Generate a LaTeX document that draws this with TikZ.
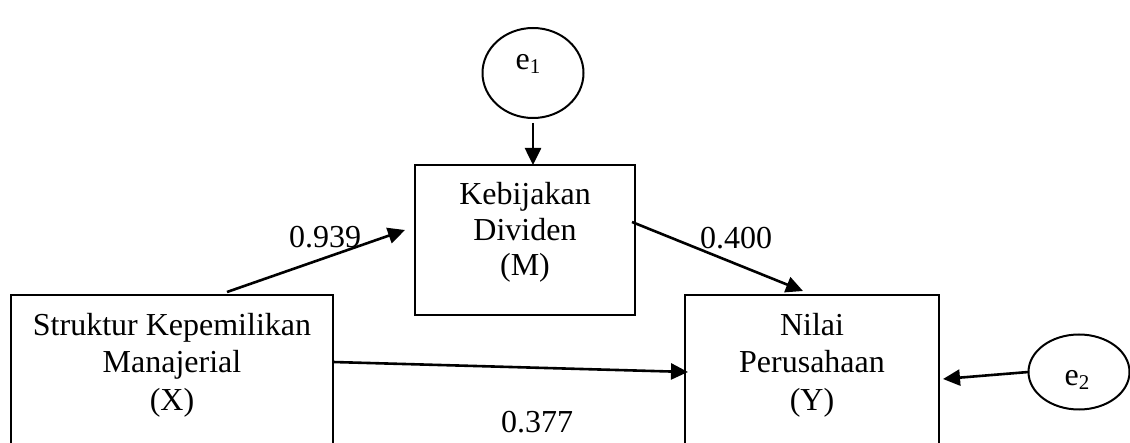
\documentclass[tikz,border=0pt]{standalone}
\usepackage{fontspec}
\setmainfont{Liberation Serif}
\usetikzlibrary{arrows.meta,calc,shapes.geometric}
\begin{document}
\begin{tikzpicture}[x=1pt,y=-1pt,
  box/.style={draw,line width=2pt,rectangle,outer sep=0pt,inner sep=0pt},
  err/.style={draw,line width=2pt,ellipse,outer sep=0pt,inner sep=0pt},
  txt/.style={align=center,font=\fontsize{32}{37}\selectfont,inner sep=0pt,anchor=base},
  coef/.style={font=\fontsize{32}{37}\selectfont,inner sep=0pt},
  path/.style={line width=2.6pt,-{Triangle[length=17pt,width=16pt]}}]
\clip (0,0) rectangle (1130,443);
\useasboundingbox (0,0) rectangle (1130,443);
% boxes
\node[box,minimum width=220pt,minimum height=150pt] (M) at (525,240) {};
\node[box,minimum width=322pt,minimum height=170pt] (X) at (172,380) {};
\node[box,minimum width=254pt,minimum height=170pt] (Y) at (812,380) {};
% error terms
\node[err,minimum width=101pt,minimum height=90pt] (e1) at (533,73) {};
\node[err,minimum width=101pt,minimum height=75pt] (e2) at (1079,372) {};
% texts
\node[txt,font=\fontsize{32}{35.5}\selectfont] (tM) at (525,276) {Kebijakan\\Dividen\\(M)};
\node[txt] (tX) at (172,410) {Struktur Kepemilikan\\Manajerial\\(X)};
\node[txt] (tY) at (812,410) {Nilai\\Perusahaan\\(Y)};
\node[txt] (te1) at (528,70) {e\raisebox{-4pt}{\fontsize{21}{21}\selectfont 1}};
\node[txt] (te2) at (1077,386) {e\raisebox{-4pt}{\fontsize{21}{21}\selectfont 2}};
% paths
\draw[path,shorten <=5pt] (e1.south) -- (e1.south |- M.north);
\draw[path] ($(X.north)+(55,-3)$) -- ($(M.west)+(-10,-10)$);
\draw[path] ($(M.east)+(-3,-18)$) -- ($(Y.north)+(-9,-4)$);
\draw[path] ($(X.north east)+(0,67)$) -- ($(Y.north west)+(3,77)$);
\draw[path] (e2.west) -- ($(Y.north east)+(4,84)$);
% coefficients
\node[coef] (c1) at (325,237) {0.939};
\node[coef] (c2) at (736,238) {0.400};
\node[coef] (c3) at (537,422) {0.377};
\end{tikzpicture}
\end{document}
